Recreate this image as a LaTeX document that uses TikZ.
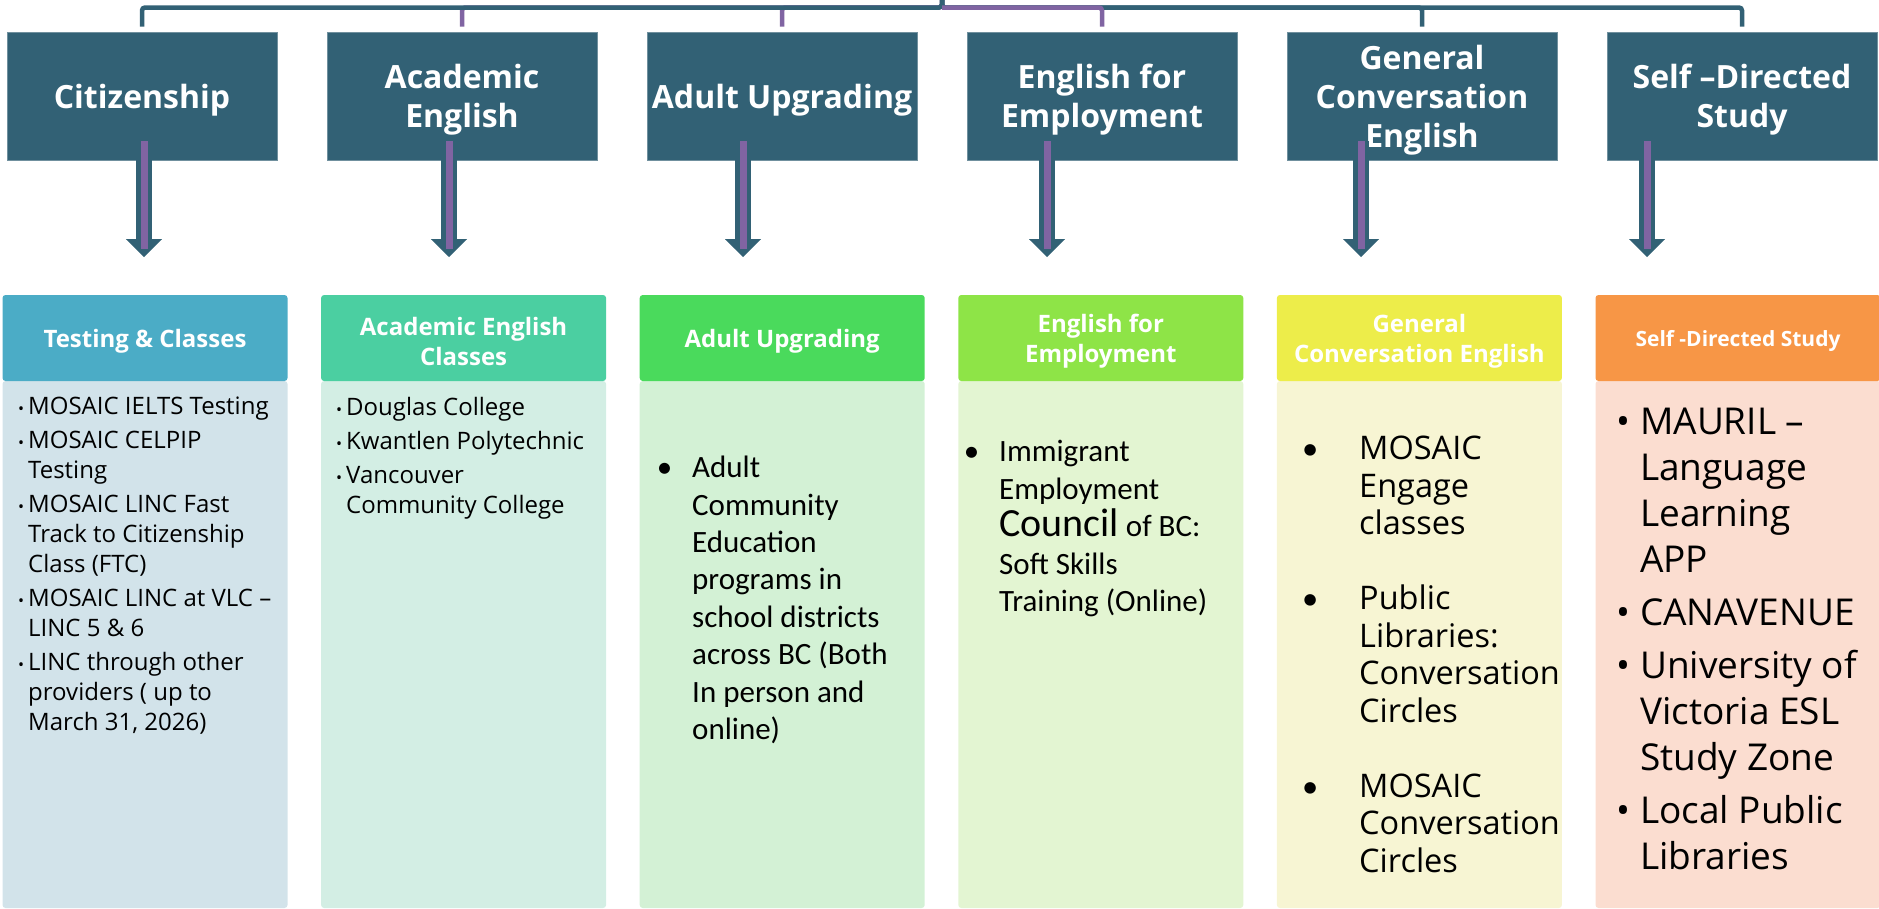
\documentclass[tikz,border=0pt]{standalone}
\usepackage{fontspec}
\setmainfont{Open Sans}
\newfontfamily\calibri{Carlito}
\usetikzlibrary{arrows.meta}

\definecolor{slate}{HTML}{326175}
\definecolor{plum}{HTML}{8064A2}
\definecolor{headA}{HTML}{4BACC6}	\definecolor{bodyA}{HTML}{D2E3EA}
\definecolor{headB}{HTML}{4BCFA1}	\definecolor{bodyB}{HTML}{D3EEE4}
\definecolor{headC}{HTML}{4ADA5C}	\definecolor{bodyC}{HTML}{D3F1D5}
\definecolor{headD}{HTML}{8EE447}	\definecolor{bodyD}{HTML}{E3F5D2}
\definecolor{headE}{HTML}{EDED4A}	\definecolor{bodyE}{HTML}{F7F5D3}
\definecolor{headF}{HTML}{F79646}	\definecolor{bodyF}{HTML}{FBDDD0}

\newcommand{\smalldot}{\llap{{\fontsize{16}{16}\selectfont •}\hspace{4pt}}}
\newcommand{\bigdot}[1]{\llap{•\hspace{#1}}}
\newcommand{\calidot}[1]{\llap{{\calibri •}\hspace{#1}}}

\begin{document}
\begin{tikzpicture}[x=1pt,y=-1pt,
	topbox/.style={fill=slate,draw=slate!70!white,line width=0.8pt,minimum width=270pt,minimum height=128pt,inner sep=0pt},
	toptext/.style={yshift=-4pt,inner sep=0pt,align=center,text=white,font=\fontsize{32}{39}\selectfont\bfseries},
	headbox/.style={minimum width=285pt,minimum height=86pt,inner sep=0pt,rounded corners=3pt},
	headtext/.style={yshift=-3pt,inner sep=0pt,align=center,text=white,font=\fontsize{24}{30}\selectfont\bfseries},
	bodybox/.style={minimum width=285pt,minimum height=527pt,inner sep=0pt,rounded corners=3pt},
	list/.style={anchor=north west,inner sep=0pt,align=left},
	link/.style={line width=4.5pt,rounded corners=3pt,shorten >=5pt},
	shaft/.style={slate,line width=16pt,-{Triangle[width=36pt,length=18pt,line width=0.1pt]}},
	core/.style={plum,line width=7pt,shorten >=8pt}]
	\useasboundingbox (0,0) rectangle (1879,908);

	%TOP BOXES
	\foreach \i/\txt in {1/Citizenship,2/{Academic\\English},3/{Adult Upgrading},4/{English for\\Employment},5/{General\\Conversation\\English},6/{Self –Directed\\Study}}{
		\node[topbox,label={[toptext]center:\txt}] (top\i) at ({142+320*(\i-1)},96) {}; %boxes
	}

	%BRANCHES
	\coordinate (stem) at (942,0);
	\coordinate (bus) at (942,7.5);
	\foreach \i in {2,3}{
		\draw[link,plum] (stem) -- (bus) -| (top\i.north);
	}
	\foreach \i in {1,5,6}{
		\draw[link,slate] (stem) -- (bus) -| (top\i.north);
	}
	\draw[link,plum] (bus) -| (top4.north);

	%COLUMNS
	\foreach \i/\c/\txt in {1/A/{Testing \& Classes},2/B/{Academic English\\Classes},3/C/{Adult Upgrading},4/D/{English for\\Employment},5/E/{General\\Conversation English},6/F/{\fontsize{21}{26}\selectfont Self -Directed Study}}{
		\node[bodybox,fill=body\c] (body\i) at ({145+318.6*(\i-1)},644.5) {}; %body
		\node[headbox,fill=head\c,label={[headtext]center:\txt}] (head\i) at ({145+318.6*(\i-1)},338) {}; %header
	}

	%DOWN ARROWS
	\foreach \i/\x in {1/144,2/449,3/743,4/1047,5/1361,6/1647}{
		\coordinate (from\i) at (\x,141);
		\coordinate (to\i) at (\x,257);
		\draw[shaft] (from\i) -- (to\i); %outer
		\draw[core] (from\i) -- (to\i); %inner
	}

	%LISTS
	\node[list,font=\fontsize{24}{30}\selectfont] (list1) at (28,397) {\smalldot MOSAIC IELTS Testing\\[4pt]\smalldot MOSAIC CELPIP\\Testing\\[4pt]\smalldot MOSAIC LINC Fast\\Track to Citizenship\\Class (FTC)\\[4pt]\smalldot MOSAIC LINC at VLC –\\LINC 5 \& 6\\[4pt]\smalldot LINC through other\\providers ( up to\\March 31, 2026)};
	\node[list,font=\fontsize{24}{30}\selectfont] (list2) at (346,397) {\smalldot Douglas College\\[4pt]\smalldot Kwantlen Polytechnic\\[4pt]\smalldot Vancouver\\Community College};
	\node[list,font=\calibri\fontsize{31}{37.4}\selectfont] (list3) at (692,456) {\bigdot{20pt}Adult\\Community\\Education\\programs in\\school districts\\across BC (Both\\In person and\\online)};
	\node[list,font=\calibri\fontsize{31}{37.5}\selectfont] (list4) at (999,440) {\bigdot{20pt}Immigrant\\Employment\\{\fontsize{40}{37.5}\selectfont Council} of BC:\\Soft Skills\\Training (Online)};
	\node[list,font=\fontsize{32.5}{37.5}\selectfont] (list5) at (1359,436) {\calidot{41pt}MOSAIC\\Engage\\classes\\[37.5pt]\calidot{41pt}Public\\Libraries:\\Conversation\\Circles\\[37.5pt]\calidot{41pt}MOSAIC\\Conversation\\Circles};
	\node[list,font=\fontsize{37}{46}\selectfont] (list6) at (1640,408) {\bigdot{10pt}MAURIL –\\Language\\Learning\\APP\\[7pt]\bigdot{10pt}CANAVENUE\\[7pt]\bigdot{10pt}University of\\Victoria ESL\\Study Zone\\[7pt]\bigdot{10pt}Local Public\\Libraries};
\end{tikzpicture}
\end{document}
